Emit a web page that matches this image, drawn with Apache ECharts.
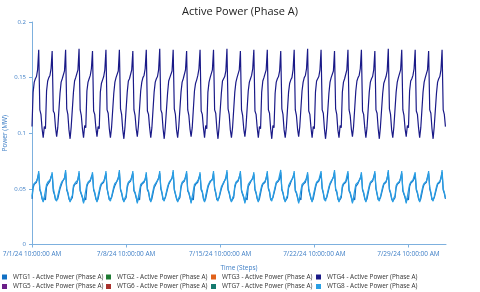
<!DOCTYPE html>
<html><head><meta charset="utf-8">
<script src="https://cdn.jsdelivr.net/npm/echarts@6/dist/echarts.min.js"></script>
<style>html,body{margin:0;padding:0;background:#fff}#c{width:480px;height:292px}</style>
</head><body><div id="c"></div>
<script>
const chartTitle = 'Active Power (Phase A)';
const yAxisName = 'Power (MW)';
const xAxisName = 'Time (Steps)';
const seriesNames = [
  'WTG1 - Active Power (Phase A)', 'WTG2 - Active Power (Phase A)',
  'WTG3 - Active Power (Phase A)', 'WTG4 - Active Power (Phase A)',
  'WTG5 - Active Power (Phase A)', 'WTG6 - Active Power (Phase A)',
  'WTG7 - Active Power (Phase A)', 'WTG8 - Active Power (Phase A)'
];
const seriesColors = ['#1170c4','#1e7a32','#e0611a','#1a1a88','#6a1f88','#a8322d','#157a6e','#2a9fe4'];
const stepHours = 2; // one sample every 2 hours, starting 7/1/24 10:00 AM
const xTickHours = [0, 168, 336, 504, 672];
const xTickLabels = ['7/1/24 10:00:00 AM','7/8/24 10:00:00 AM','7/15/24 10:00:00 AM','7/22/24 10:00:00 AM','7/29/24 10:00:00 AM'];
const yTicks = [0, 0.05, 0.1, 0.15, 0.2];

const wtg4 = [
0.106,0.137,0.146,0.149,0.151,0.157,0.175,0.121,0.117,0.104,0.096,0.106,
0.104,0.138,0.147,0.150,0.152,0.158,0.174,0.120,0.118,0.105,0.097,0.105,
0.105,0.136,0.146,0.149,0.150,0.156,0.175,0.122,0.117,0.103,0.095,0.106,
0.106,0.137,0.147,0.150,0.151,0.157,0.176,0.121,0.116,0.104,0.096,0.107,
0.105,0.138,0.146,0.149,0.152,0.158,0.174,0.120,0.117,0.105,0.097,0.106,
0.104,0.137,0.145,0.148,0.151,0.157,0.175,0.121,0.118,0.104,0.096,0.105,
0.106,0.136,0.146,0.150,0.151,0.156,0.175,0.122,0.117,0.103,0.095,0.106,
0.105,0.137,0.147,0.149,0.150,0.157,0.174,0.121,0.116,0.104,0.097,0.107,
0.106,0.138,0.146,0.150,0.152,0.158,0.175,0.120,0.117,0.105,0.096,0.105,
0.104,0.137,0.146,0.149,0.151,0.157,0.176,0.121,0.118,0.104,0.095,0.106,
0.105,0.136,0.147,0.150,0.151,0.156,0.175,0.122,0.117,0.103,0.096,0.106,
0.106,0.137,0.146,0.149,0.150,0.157,0.174,0.121,0.116,0.104,0.097,0.105,
0.105,0.138,0.145,0.148,0.152,0.158,0.175,0.120,0.117,0.105,0.096,0.107,
0.104,0.137,0.146,0.150,0.151,0.157,0.175,0.121,0.118,0.104,0.095,0.106,
0.106,0.136,0.147,0.149,0.151,0.156,0.176,0.122,0.117,0.103,0.096,0.105,
0.105,0.137,0.146,0.150,0.150,0.157,0.174,0.121,0.116,0.104,0.097,0.106,
0.106,0.138,0.146,0.149,0.152,0.158,0.175,0.120,0.117,0.105,0.096,0.106,
0.104,0.137,0.147,0.150,0.151,0.157,0.175,0.121,0.118,0.104,0.095,0.107,
0.105,0.136,0.146,0.149,0.151,0.156,0.174,0.122,0.117,0.103,0.096,0.105,
0.106,0.137,0.145,0.148,0.150,0.157,0.175,0.121,0.116,0.104,0.097,0.106,
0.105,0.138,0.146,0.150,0.152,0.158,0.176,0.120,0.117,0.105,0.096,0.106,
0.104,0.137,0.147,0.149,0.151,0.157,0.175,0.121,0.118,0.104,0.095,0.105,
0.106,0.136,0.146,0.150,0.151,0.156,0.174,0.122,0.117,0.103,0.096,0.107,
0.105,0.137,0.146,0.149,0.150,0.157,0.175,0.121,0.116,0.104,0.097,0.106,
0.106,0.138,0.147,0.150,0.152,0.158,0.175,0.120,0.117,0.105,0.096,0.105,
0.104,0.137,0.146,0.149,0.151,0.157,0.174,0.121,0.118,0.104,0.095,0.106,
0.105,0.136,0.145,0.148,0.151,0.156,0.176,0.122,0.117,0.103,0.096,0.106,
0.106,0.137,0.146,0.150,0.150,0.157,0.175,0.121,0.116,0.104,0.097,0.107,
0.105,0.138,0.147,0.149,0.152,0.158,0.175,0.120,0.117,0.105,0.096,0.105,
0.104,0.137,0.146,0.150,0.151,0.157,0.174,0.121,0.118,0.104,0.095,0.106,
0.105,0.136,0.146,0.149,0.151,0.157,0.175,0.121,0.117,0.106
];

const wtg8 = [
0.043,0.053,0.055,0.056,0.057,0.059,0.066,0.050,0.047,0.042,0.038,0.043,
0.042,0.054,0.056,0.056,0.058,0.060,0.065,0.051,0.046,0.041,0.039,0.044,
0.043,0.052,0.055,0.057,0.057,0.059,0.067,0.050,0.047,0.042,0.038,0.042,
0.044,0.053,0.054,0.056,0.056,0.058,0.066,0.049,0.048,0.043,0.037,0.043,
0.042,0.054,0.056,0.057,0.058,0.060,0.065,0.050,0.047,0.042,0.038,0.044,
0.043,0.053,0.055,0.056,0.057,0.059,0.066,0.051,0.046,0.041,0.039,0.043,
0.043,0.052,0.055,0.056,0.057,0.059,0.067,0.050,0.047,0.042,0.038,0.042,
0.044,0.053,0.056,0.057,0.058,0.060,0.066,0.049,0.047,0.043,0.037,0.043,
0.042,0.054,0.055,0.056,0.057,0.058,0.065,0.050,0.048,0.042,0.038,0.044,
0.043,0.053,0.054,0.056,0.056,0.059,0.066,0.051,0.047,0.041,0.039,0.043,
0.043,0.052,0.055,0.057,0.057,0.059,0.067,0.050,0.046,0.042,0.038,0.042,
0.044,0.053,0.056,0.056,0.058,0.060,0.066,0.049,0.047,0.043,0.037,0.043,
0.042,0.054,0.055,0.056,0.057,0.059,0.065,0.050,0.048,0.042,0.038,0.044,
0.043,0.053,0.055,0.057,0.057,0.058,0.066,0.051,0.047,0.041,0.039,0.043,
0.043,0.052,0.054,0.056,0.056,0.059,0.067,0.050,0.047,0.042,0.038,0.042,
0.044,0.053,0.056,0.056,0.058,0.060,0.066,0.049,0.046,0.043,0.037,0.043,
0.042,0.054,0.055,0.057,0.057,0.059,0.065,0.050,0.047,0.042,0.038,0.044,
0.043,0.053,0.055,0.056,0.057,0.059,0.066,0.051,0.048,0.041,0.039,0.043,
0.043,0.052,0.056,0.056,0.058,0.058,0.067,0.050,0.047,0.042,0.038,0.042,
0.044,0.053,0.054,0.057,0.056,0.060,0.066,0.049,0.047,0.043,0.037,0.043,
0.042,0.054,0.055,0.056,0.057,0.059,0.065,0.050,0.046,0.042,0.038,0.044,
0.043,0.053,0.056,0.056,0.058,0.059,0.066,0.051,0.047,0.041,0.039,0.043,
0.043,0.052,0.055,0.057,0.057,0.060,0.067,0.050,0.048,0.042,0.038,0.042,
0.044,0.053,0.055,0.056,0.057,0.058,0.066,0.049,0.047,0.043,0.037,0.043,
0.042,0.054,0.054,0.056,0.056,0.059,0.065,0.050,0.047,0.042,0.038,0.044,
0.043,0.053,0.056,0.057,0.058,0.060,0.066,0.051,0.046,0.041,0.039,0.043,
0.043,0.052,0.055,0.056,0.057,0.059,0.067,0.050,0.047,0.042,0.038,0.042,
0.044,0.053,0.055,0.056,0.057,0.059,0.066,0.049,0.048,0.043,0.037,0.043,
0.042,0.054,0.056,0.057,0.058,0.058,0.065,0.050,0.047,0.042,0.038,0.044,
0.043,0.053,0.055,0.056,0.057,0.060,0.066,0.051,0.047,0.041,0.039,0.043,
0.043,0.052,0.055,0.056,0.057,0.059,0.067,0.050,0.047,0.042
];

const wtg1 = [
0.041,0.051,0.054,0.055,0.056,0.060,0.064,0.049,0.046,0.041,0.039,0.042,
0.040,0.052,0.054,0.055,0.057,0.061,0.063,0.048,0.045,0.040,0.040,0.041,
0.041,0.050,0.053,0.056,0.056,0.060,0.065,0.049,0.046,0.041,0.039,0.040,
0.042,0.051,0.054,0.055,0.055,0.059,0.064,0.048,0.047,0.042,0.038,0.042,
0.040,0.052,0.055,0.056,0.057,0.061,0.063,0.049,0.046,0.041,0.039,0.041,
0.041,0.051,0.054,0.055,0.056,0.060,0.064,0.050,0.045,0.040,0.040,0.042,
0.041,0.050,0.053,0.055,0.056,0.060,0.065,0.049,0.046,0.041,0.039,0.040,
0.042,0.051,0.055,0.056,0.057,0.061,0.064,0.048,0.046,0.042,0.038,0.042,
0.040,0.052,0.054,0.055,0.056,0.059,0.063,0.049,0.047,0.041,0.039,0.041,
0.041,0.051,0.053,0.055,0.055,0.060,0.064,0.050,0.046,0.040,0.040,0.042,
0.041,0.050,0.054,0.056,0.056,0.060,0.065,0.049,0.045,0.041,0.039,0.040,
0.042,0.051,0.055,0.055,0.057,0.061,0.064,0.048,0.046,0.042,0.038,0.042,
0.040,0.052,0.054,0.055,0.056,0.060,0.063,0.049,0.047,0.041,0.039,0.041,
0.041,0.051,0.054,0.056,0.056,0.059,0.064,0.050,0.046,0.040,0.040,0.042,
0.041,0.050,0.053,0.055,0.055,0.060,0.065,0.049,0.046,0.041,0.039,0.040,
0.042,0.051,0.055,0.055,0.057,0.061,0.064,0.048,0.045,0.042,0.038,0.042,
0.040,0.052,0.054,0.056,0.056,0.060,0.063,0.049,0.046,0.041,0.039,0.041,
0.041,0.051,0.054,0.055,0.056,0.060,0.064,0.050,0.047,0.040,0.040,0.042,
0.041,0.050,0.055,0.055,0.057,0.059,0.065,0.049,0.046,0.041,0.039,0.040,
0.042,0.051,0.053,0.056,0.055,0.061,0.064,0.048,0.046,0.042,0.038,0.042,
0.040,0.052,0.054,0.055,0.056,0.060,0.063,0.049,0.045,0.041,0.039,0.041,
0.041,0.051,0.055,0.055,0.057,0.060,0.064,0.050,0.046,0.040,0.040,0.042,
0.041,0.050,0.054,0.056,0.056,0.061,0.065,0.049,0.047,0.041,0.039,0.040,
0.042,0.051,0.054,0.055,0.056,0.059,0.064,0.048,0.046,0.042,0.038,0.042,
0.040,0.052,0.053,0.055,0.055,0.060,0.063,0.049,0.046,0.041,0.039,0.041,
0.041,0.051,0.055,0.056,0.057,0.061,0.064,0.050,0.045,0.040,0.040,0.042,
0.041,0.050,0.054,0.055,0.056,0.060,0.065,0.049,0.046,0.041,0.039,0.040,
0.042,0.051,0.054,0.055,0.056,0.060,0.064,0.048,0.047,0.042,0.038,0.042,
0.040,0.052,0.055,0.056,0.057,0.059,0.063,0.049,0.046,0.041,0.039,0.041,
0.041,0.051,0.054,0.055,0.056,0.061,0.064,0.050,0.046,0.040,0.040,0.042,
0.041,0.050,0.054,0.055,0.056,0.060,0.065,0.049,0.046,0.041
];
const wtg2 = [], wtg3 = [], wtg5 = [], wtg6 = [], wtg7 = [];
const seriesValues = [wtg1, wtg2, wtg3, wtg4, wtg5, wtg6, wtg7, wtg8];

const FONT = 'Open Sans';
const AXIS_BLUE = '#7db0de';
const LABEL_BLUE = '#3f7fc6';
const lastHour = 739;

const chart = echarts.init(document.getElementById('c'), null, {renderer: 'canvas'});
const legendLefts = [2, 106, 211, 316];
chart.setOption({
  animation: false,
  backgroundColor: '#fff',
  title: {text: chartTitle, left: 'center', top: 1,
    textStyle: {fontSize: 11, fontWeight: 'normal', color: '#222', fontFamily: FONT}},
  grid: {left: 32, right: 34, top: 22, bottom: 47.5, containLabel: false, outerBoundsMode: 'none'},
  legend: legendLefts.map((l, c) => ({
    orient: 'vertical', left: l, top: 274, padding: 0,
    itemWidth: 5, itemHeight: 5, itemGap: 3.5, icon: 'rect',
    data: [seriesNames[c], seriesNames[c + 4]],
    textStyle: {fontSize: 6.4, color: '#333', fontFamily: FONT, padding: [0, 0, 0, 1]}
  })),
  xAxis: {
    type: 'value', min: 0, max: lastHour,
    name: xAxisName, nameLocation: 'middle', nameGap: 20, nameMoveOverlap: false,
    nameTextStyle: {fontSize: 6.5, color: LABEL_BLUE, fontFamily: FONT},
    axisLine: {show: true, lineStyle: {color: AXIS_BLUE, width: 1}},
    axisTick: {show: true, length: 3, lineStyle: {color: AXIS_BLUE}, customValues: xTickHours},
    axisLabel: {fontSize: 6.5, color: LABEL_BLUE, fontFamily: FONT, margin: 6,
      customValues: xTickHours,
      formatter: v => xTickLabels[xTickHours.indexOf(v)] || ''},
    splitLine: {show: false}
  },
  yAxis: {
    type: 'value', min: yTicks[0], max: yTicks[yTicks.length - 1], interval: 0.05,
    name: yAxisName, nameLocation: 'middle', nameGap: 23, nameMoveOverlap: false,
    nameTextStyle: {fontSize: 6.5, color: LABEL_BLUE, fontFamily: FONT},
    axisLine: {show: true, lineStyle: {color: AXIS_BLUE, width: 1}},
    axisTick: {show: true, length: 3, lineStyle: {color: AXIS_BLUE}},
    axisLabel: {fontSize: 6, color: LABEL_BLUE, fontFamily: FONT, margin: 6},
    splitLine: {show: false}
  },
  series: seriesNames.map((n, i) => ({
    name: n, type: 'line', color: seriesColors[i],
    showSymbol: false, symbol: 'none',
    lineStyle: {width: 1.2, color: seriesColors[i]},
    itemStyle: {color: seriesColors[i]},
    data: seriesValues[i].map((v, k) => [k * stepHours, v])
  }))
});
</script></body></html>
